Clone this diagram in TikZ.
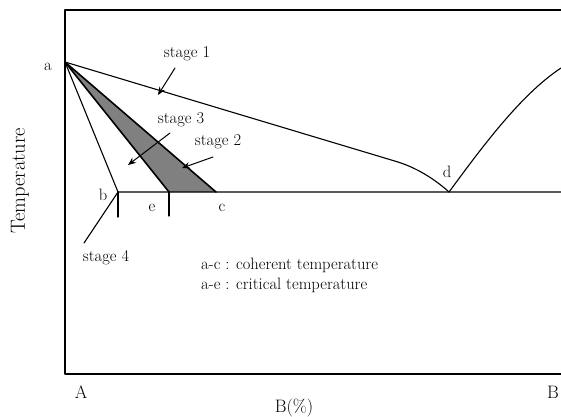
\documentclass[tikz,border=0pt]{standalone}
\usetikzlibrary{arrows.meta}
\begin{document}
\begin{tikzpicture}[x=1pt,y=-1pt,line join=round,line cap=round,
  ln/.style={line width=1.1pt},
  lbl/.style={font=\fontsize{16.5}{19}\selectfont, inner sep=0pt},
  axl/.style={font=\fontsize{18}{21}\selectfont, inner sep=0pt},
  arr/.style={line width=1pt,-{Stealth[length=8pt,width=6.5pt]}}]
\useasboundingbox (0,0) rectangle (561,416);
% key points
\coordinate (TL) at (65,10);
\coordinate (TR) at (561,10);
\coordinate (BL) at (65,374);
\coordinate (BR) at (561,374);
\coordinate (a) at (65,62);
\coordinate (b) at (118,192);
\coordinate (e) at (169,192);
\coordinate (c) at (216,192);
\coordinate (d) at (449,192);
\coordinate (R) at (561,192);
\coordinate (bt) at (118,217);
\coordinate (et) at (169,216);
\coordinate (s4) at (84,243);
\coordinate (top) at (561,68);
\coordinate (k) at (398,162);
% shaded region
\fill[black!50] (a) -- (e) -- (c) -- cycle;
\draw[line width=1.6pt] (e) -- (a) -- (c);
% frame
\draw[ln] (TR) -- (TL) -- (BL) -- (BR);
% lines
\draw[ln] (a) -- (k) .. controls (420,169) and (438,182) .. (d);
\draw[ln] (d) .. controls (480,150) and (520,95) .. (top);
\draw[ln] (a) -- (b) -- (R);
\draw[ln] (b) -- (bt);
\draw[ln] (e) -- (et);
\draw[ln] (b) -- (s4);
% labels
\node[lbl] (la) at (48,67) {a};
\node[lbl] (lb) at (103,195) {b};
\node[lbl] (le) at (152,208) {e};
\node[lbl] (lc) at (222,208) {c};
\node[lbl] (ld) at (447,172) {d};
\node[lbl] (st1) at (187,54) {stage 1};
\node[lbl] (st3) at (181,120) {stage 3};
\node[lbl] (st2) at (218,142) {stage 2};
\node[lbl] (st4) at (106,258) {stage 4};
\node[lbl,anchor=west] (t1) at (201,265) {a-c : coherent temperature};
\node[lbl,anchor=west] (t2) at (201,285) {a-e : critical temperature};
\node[axl] (lA) at (81,392) {A};
\node[axl] (lB) at (553,392) {B};
\node[axl] (lx) at (294,408) {B(\%)};
\node[axl,font=\fontsize{20.5}{23}\selectfont,rotate=90] (ly) at (20,181) {Temperature};
% arrows
\coordinate (s1a) at (175,68);
\coordinate (s1b) at (158,95);
\coordinate (s3a) at (170,133);
\coordinate (s3b) at (128,165);
\coordinate (s2a) at (213,157);
\coordinate (s2b) at (182,168);
\draw[arr] (s1a) -- (s1b);
\draw[arr] (s3a) -- (s3b);
\draw[arr] (s2a) -- (s2b);
\end{tikzpicture}
\end{document}
